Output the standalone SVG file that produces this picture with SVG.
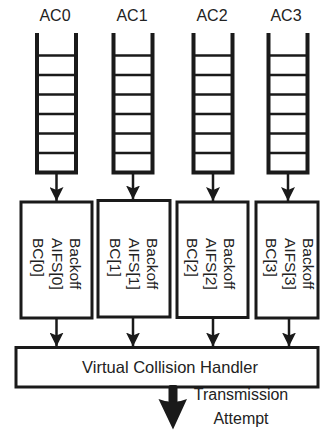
<svg xmlns="http://www.w3.org/2000/svg" width="320" height="430" viewBox="0 0 320 430">
<style>
.rail{stroke:#1a1a1a;stroke-width:4;fill:none;stroke-linejoin:miter}
.rung{stroke:#1a1a1a;stroke-width:2.5}
.box{fill:#fff;stroke:#1a1a1a;stroke-width:3}
.conn{stroke:#1a1a1a;stroke-width:2.5;fill:none}
text{font-family:"Liberation Sans",Arial,sans-serif;fill:#222}
.lbl{font-size:16px;text-anchor:middle}
.bk{font-size:15.5px}
.big{font-size:16.5px;text-anchor:middle}
.tx{font-size:16px;text-anchor:middle}
</style>
<defs>
<marker id="ah" markerUnits="userSpaceOnUse" markerWidth="14" markerHeight="14" viewBox="0 0 14 14" refX="14" refY="7" orient="auto">
<path d="M0,0 L14,7 L0,14 L3,7 Z" fill="#1a1a1a"/>
</marker>
<g id="rungs">
<line class="rung" x1="0" y1="55.5" x2="39" y2="55.5"/>
<line class="rung" x1="0" y1="75" x2="39" y2="75"/>
<line class="rung" x1="0" y1="94.5" x2="39" y2="94.5"/>
<line class="rung" x1="0" y1="114" x2="39" y2="114"/>
<line class="rung" x1="0" y1="133.5" x2="39" y2="133.5"/>
<line class="rung" x1="0" y1="153" x2="39" y2="153"/>
<path class="rail" d="M0,33 V172.5 H39 V33"/>
</g>
</defs>

<g id="ac0"><text class="lbl" x="55" y="21">AC0</text><use href="#rungs" x="37" y="0"/></g>
<g id="ac1"><text class="lbl" x="132" y="21">AC1</text><use href="#rungs" x="113.5" y="0"/></g>
<g id="ac2"><text class="lbl" x="212" y="21">AC2</text><use href="#rungs" x="193.5" y="0"/></g>
<g id="ac3"><text class="lbl" x="286" y="21">AC3</text><use href="#rungs" x="268.5" y="0"/></g>

<g id="backoff0"><rect class="box" x="21" y="202" width="71" height="116"/>
<text class="bk" transform="translate(70,238) rotate(90)"><tspan x="0" y="0">Backoff</tspan><tspan x="0" y="18.5">AIFS[0]</tspan><tspan x="0" y="37">BC[0]</tspan></text></g>
<g id="backoff1"><rect class="box" x="98" y="200.5" width="72" height="116.5"/>
<text class="bk" transform="translate(147,238) rotate(90)"><tspan x="0" y="0">Backoff</tspan><tspan x="0" y="18.5">AIFS[1]</tspan><tspan x="0" y="37">BC[1]</tspan></text></g>
<g id="backoff2"><rect class="box" x="177" y="202" width="71" height="115.5"/>
<text class="bk" transform="translate(224,238) rotate(90)"><tspan x="0" y="0">Backoff</tspan><tspan x="0" y="18.5">AIFS[2]</tspan><tspan x="0" y="37">BC[2]</tspan></text></g>
<g id="backoff3"><rect class="box" x="256" y="202" width="62" height="116"/>
<text class="bk" transform="translate(303,238) rotate(90)"><tspan x="0" y="0">Backoff</tspan><tspan x="0" y="18.5">AIFS[3]</tspan><tspan x="0" y="37">BC[3]</tspan></text></g>

<g id="vch"><rect class="box" x="16" y="347.5" width="302" height="39.5"/>
<text class="big" x="170" y="373">Virtual Collision Handler</text></g>

<g id="connectors">
<line class="conn" x1="56.5" y1="173" x2="56.5" y2="201" marker-end="url(#ah)"/>
<line class="conn" x1="133" y1="173" x2="133" y2="199.5" marker-end="url(#ah)"/>
<line class="conn" x1="213" y1="173" x2="213" y2="201" marker-end="url(#ah)"/>
<line class="conn" x1="288" y1="173" x2="288" y2="201" marker-end="url(#ah)"/>
<line class="conn" x1="56.5" y1="318" x2="56.5" y2="346.5" marker-end="url(#ah)"/>
<line class="conn" x1="133" y1="317" x2="133" y2="346.5" marker-end="url(#ah)"/>
<line class="conn" x1="213" y1="317" x2="213" y2="346.5" marker-end="url(#ah)"/>
<line class="conn" x1="289" y1="318" x2="289" y2="346.5" marker-end="url(#ah)"/>
<rect x="168.5" y="385" width="9" height="18" rx="2" fill="#1a1a1a"/>
<path d="M158.5,399 Q173,405 187,399 L173,429.5 Z" fill="#1a1a1a"/>
</g>
<g id="tx-label"><text class="tx" x="241" y="400">Transmission</text><text class="tx" x="241" y="424">Attempt</text></g>
</svg>
